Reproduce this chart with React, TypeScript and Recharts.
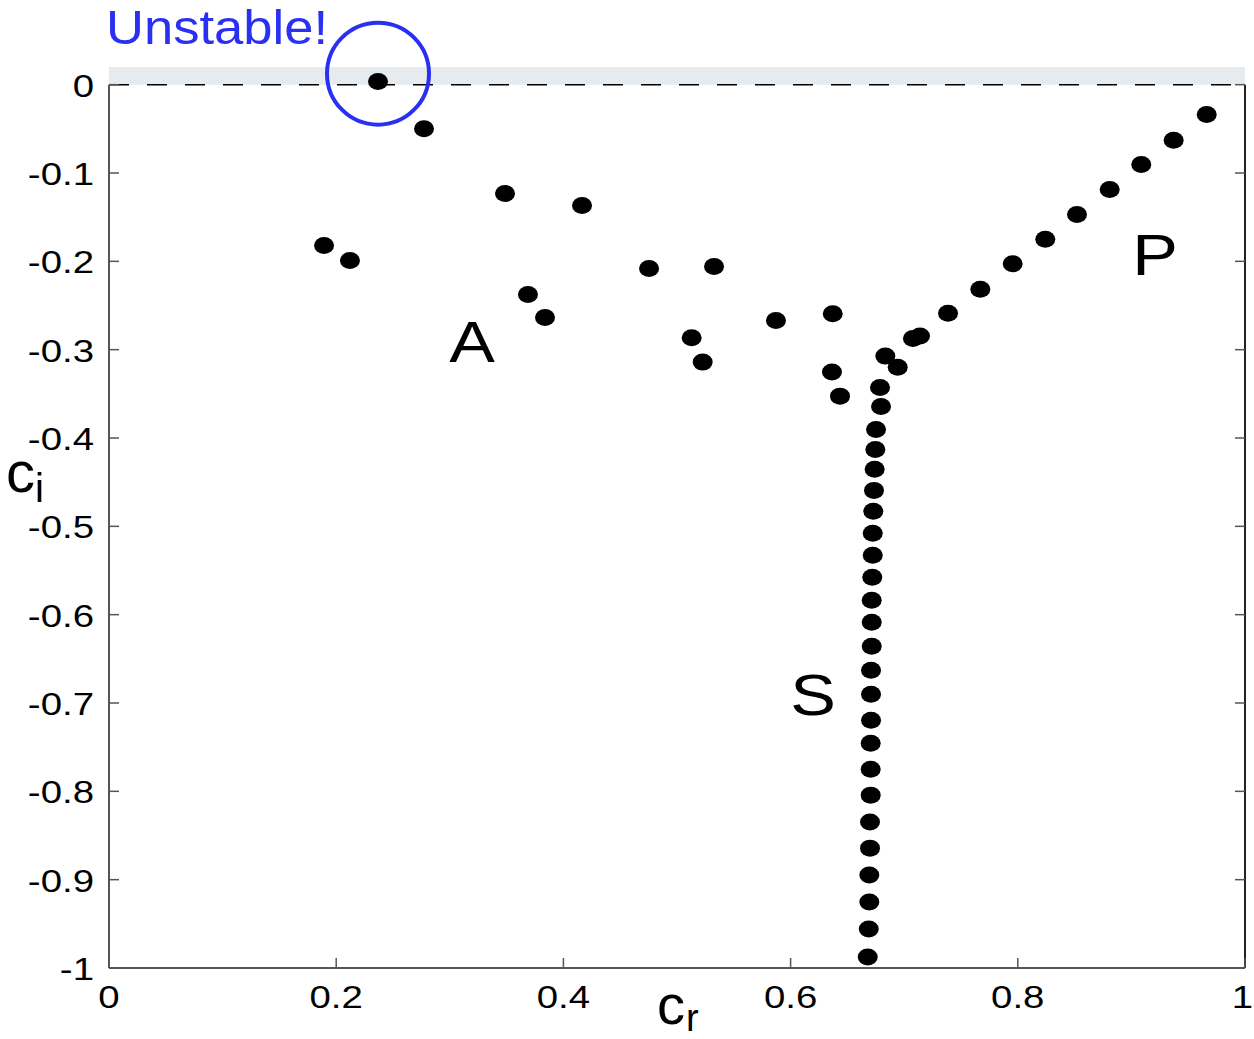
import React from "react";
import {
  ScatterChart,
  Scatter,
  XAxis,
  YAxis,
  ReferenceLine,
  ReferenceArea,
  ReferenceDot,
} from "recharts";

// A branch (incl. the unstable mode just above ci = 0)
const crA = [0.2368, 0.2773, 0.3486, 0.4164, 0.1893, 0.2121, 0.3688, 0.3838, 0.4754, 0.5326, 0.5129, 0.5226, 0.5871, 0.6371, 0.6364, 0.6435];
const ciA = [0.0037, -0.0498, -0.1233, -0.1369, -0.1821, -0.1991, -0.2376, -0.2636, -0.2081, -0.2059, -0.2865, -0.3141, -0.267, -0.2594, -0.3254, -0.3526];

// P branch
const crP = [0.9663, 0.9372, 0.9087, 0.8809, 0.8521, 0.8242, 0.7955, 0.767, 0.7386, 0.7139, 0.7077, 0.6834, 0.6943];
const ciP = [-0.0339, -0.063, -0.0905, -0.1188, -0.1471, -0.175, -0.2028, -0.2316, -0.2587, -0.2845, -0.2873, -0.3073, -0.3198];

// S branch
const crS = [0.6787, 0.6796, 0.6752, 0.6746, 0.674, 0.6734, 0.6728, 0.6723, 0.6723, 0.6719, 0.6714, 0.6714, 0.6714, 0.6708, 0.6708, 0.6708, 0.6705, 0.6705, 0.6705, 0.6699, 0.6699, 0.6693, 0.6693, 0.6688, 0.6679];
const ciS = [-0.3428, -0.3643, -0.3903, -0.4129, -0.4355, -0.4593, -0.483, -0.5079, -0.5328, -0.5577, -0.5837, -0.6086, -0.6357, -0.6629, -0.69, -0.7195, -0.7455, -0.7749, -0.8043, -0.8348, -0.8643, -0.8948, -0.9253, -0.9559, -0.9876];

const xTicks = [0, 0.2, 0.4, 0.6, 0.8, 1];
const yTicks = [0, -0.1, -0.2, -0.3, -0.4, -0.5, -0.6, -0.7, -0.8, -0.9, -1];

const toPoints = (xs: number[], ys: number[]) => xs.map((x, i) => ({ x, y: ys[i] }));
const pointsA = toPoints(crA, ciA);
const pointsP = toPoints(crP, ciP);
const pointsS = toPoints(crS, ciS);

const FONT = '"Liberation Sans", Arial, sans-serif';
const BLUE = "#2a30f2";
const AXIS = "#555";

const Dot = (props: any) => <ellipse cx={props.cx} cy={props.cy} rx={10} ry={8.5} fill="#000" />;

const XTick = (props: any) => {
  const { x, y, payload } = props;
  // last label sits on the right edge, keep it inside the picture
  const last = payload.value === 1;
  return (
    <g>
      <line x1={x} y1={y} x2={x} y2={y - 10} stroke={AXIS} strokeWidth={1.5} />
      <text
        transform={`translate(${last ? x + 8 : x},${y + 40}) scale(1.2,1)`}
        textAnchor={last ? "end" : "middle"}
        fontSize={32}
        fontFamily={FONT}
        fill="#000"
      >
        {String(payload.value)}
      </text>
    </g>
  );
};

const YTickLeft = (props: any) => {
  const { x, y, payload } = props;
  return (
    <g>
      <line x1={x} y1={y} x2={x + 10} y2={y} stroke={AXIS} strokeWidth={1.5} />
      <text transform={`translate(${x - 15},${y + 12}) scale(1.2,1)`} textAnchor="end" fontSize={32} fontFamily={FONT} fill="#000">
        {String(payload.value)}
      </text>
    </g>
  );
};

const YTickRight = (props: any) => {
  const { x, y } = props;
  return <line x1={x} y1={y} x2={x - 10} y2={y} stroke={AXIS} strokeWidth={1.5} />;
};

const letter = (s: string) => (p: any) => (
  <text transform={`translate(${p.cx},${p.cy + 21}) scale(1.18,1)`} textAnchor="middle" fontSize={58} fontFamily={FONT} fill="#000">
    {s}
  </text>
);

export default function App() {
  return (
    <div style={{ position: "absolute", left: 0, top: 0, background: "#fff" }}>
      <ScatterChart width={1254} height={1039} margin={{ top: 67, right: 0, left: 0, bottom: 0 }}>
        <XAxis
          type="number"
          dataKey="x"
          domain={[0, 1]}
          ticks={xTicks}
          interval={0}
          tickSize={0}
          tickMargin={0}
          height={71}
          axisLine={{ stroke: AXIS, strokeWidth: 2 }}
          tick={<XTick />}
          allowDataOverflow
        />
        <YAxis
          type="number"
          dataKey="y"
          domain={[-1, 0.02]}
          ticks={yTicks}
          interval={0}
          tickSize={0}
          tickMargin={0}
          width={109}
          axisLine={false}
          tick={<YTickLeft />}
          allowDataOverflow
        />
        <YAxis
          yAxisId="right"
          orientation="right"
          type="number"
          domain={[-1, 0.02]}
          ticks={yTicks}
          interval={0}
          tickSize={0}
          tickMargin={0}
          width={9}
          axisLine={false}
          tick={<YTickRight />}
          allowDataOverflow
        />
        <ReferenceArea x1={0} x2={1} y1={0} y2={0.02} fill="#e5ebee" fillOpacity={1} stroke="none" ifOverflow="visible" />
        <ReferenceLine y={0} stroke="#000" strokeWidth={1.5} strokeDasharray="20 18" />
        <ReferenceLine segment={[{ x: 0, y: 0 }, { x: 0, y: -1 }]} stroke={AXIS} strokeWidth={2} ifOverflow="visible" />
        <ReferenceLine segment={[{ x: 1, y: 0 }, { x: 1, y: -1 }]} stroke="#222" strokeWidth={2} ifOverflow="visible" />
        <Scatter data={pointsA} shape={Dot} isAnimationActive={false} />
        <Scatter data={pointsP} shape={Dot} isAnimationActive={false} />
        <Scatter data={pointsS} shape={Dot} isAnimationActive={false} />
        <ReferenceDot x={0.3195} y={-0.2907} r={0} shape={letter("A")} ifOverflow="visible" />
        <ReferenceDot x={0.9208} y={-0.1912} r={0} shape={letter("P")} ifOverflow="visible" />
        <ReferenceDot x={0.6197} y={-0.69} r={0} shape={letter("S")} ifOverflow="visible" />
        <ReferenceDot x={0.2368} y={0.0125} r={51} fill="none" stroke={BLUE} strokeWidth={4} ifOverflow="visible" />
        <text x={106} y={44} fontSize={48} fontFamily={FONT} fill={BLUE} textLength={222} lengthAdjust="spacingAndGlyphs">
          Unstable!
        </text>
        <text x={6} y={492} fontSize={58} fontFamily={FONT} fill="#000">
          c
          <tspan x={35} y={502} fontSize={40}>i</tspan>
        </text>
        <text x={657} y={1024} fontSize={56} fontFamily={FONT} fill="#000">
          c
          <tspan x={686} y={1031} fontSize={38}>r</tspan>
        </text>
      </ScatterChart>
    </div>
  );
}
